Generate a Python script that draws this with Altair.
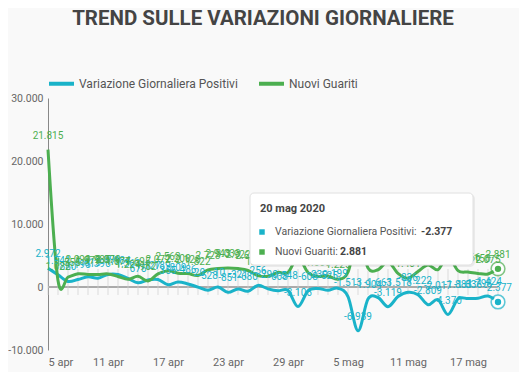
import altair as alt
import pandas as pd

# ---- data ----
dates = pd.date_range("2020-04-05", "2020-05-20", freq="D").strftime("%Y-%m-%dT00:00:00").tolist()

variazione_positivi = [
    2972, 1941, 880, 1195, 1615, 1396, 1996, 1984, 1363, 675,
    1127, 1189, 355, 809, 486, -20, -528, -10, -851, -321,
    -680, 256, -290, -608, -548, -3106, -608, -239, -525, -199,
    -1513, -6939, -1904, -1663, -3119, -1518, -836, -1222, -2809, -2017,
    -4370, -1883, -1836, -1798, -1424, -2377,
]
nuovi_guariti = [
    21815, 1022, 1555, 2099, 1979, 1985, 2079, 1677, 1224, 1695,
    962, 2072, 2563, 2200, 2128, 1822, 2723, 2943, 3033, 2922,
    2622, 1808, 1696, 2317, 2311, 4693, 2304, 1665, 1740, 1225,
    2352, 8014, 3031, 2747, 4008, 2155, 1401, 2452, 3502, 2747,
    4917, 2605, 2366, 2150, 2075, 2881,
]
series_names = ["Variazione Giornaliera Positivi", "Nuovi Guariti"]
series_colors = ["#1ab3c9", "#4caf50"]
x_tick_dates = ["2020-04-05", "2020-04-11", "2020-04-17", "2020-04-23",
                "2020-04-29", "2020-05-05", "2020-05-11", "2020-05-17"]
y_ticks = [-10000, 0, 10000, 20000, 30000]
title_text = "TREND SULLE VARIAZIONI GIORNALIERE"
tooltip_date = "20 mag 2020"

# ---- tables ----
df = pd.DataFrame({
    "date": dates * 2,
    "serie": [series_names[0]] * len(dates) + [series_names[1]] * len(dates),
    "value": variazione_positivi + nuovi_guariti,
})
last = df[df["date"] == dates[-1]]
days = pd.DataFrame({"date": dates})


def it_num(v):
    return f"{v:,}".replace(",", ".")


def dt(s):
    y, m, d = map(int, s.split("-"))
    return alt.DateTime(year=y, month=m, date=d)


W, H = 450, 252
FONT = "Roboto"

xscale = alt.Scale(domain=[dt(dates[0][:10]), dt(dates[-1][:10])], nice=False)
yscale = alt.Scale(domain=[y_ticks[0], y_ticks[-1]], nice=False, zero=False)
color_scale = alt.Scale(domain=series_names, range=series_colors)

X = alt.X("date:T", scale=xscale,
          axis=alt.Axis(values=[dt(d) for d in x_tick_dates], format="%-d %b",
                        title=None, grid=False, ticks=False, domain=False,
                        labelFont=FONT, labelFontSize=11, labelColor="#666",
                        labelPadding=6, labelAngle=0))
Y = alt.Y("value:Q", scale=yscale,
          axis=alt.Axis(values=y_ticks, format=",d", title=None, grid=False,
                        ticks=False, domain=True, domainColor="#888",
                        labelFont=FONT, labelFontSize=10.5, labelColor="#666",
                        labelPadding=5))

zero_rule = alt.Chart(days).mark_rule(color="#aaa", strokeWidth=1).encode(
    y=alt.datum(0), x=alt.value(0), x2=alt.value(W))

day_ticks = alt.Chart(days).mark_tick(color="#d0d0d0", thickness=1, size=26, yOffset=-5,
                                      orient="vertical").encode(
    x=alt.X("date:T", scale=xscale), y=alt.datum(0))

lines = alt.Chart(df).mark_line(interpolate="cardinal", strokeWidth=3).encode(
    x=X, y=Y,
    color=alt.Color("serie:N", scale=color_scale, sort=series_names,
                    legend=alt.Legend(orient="none", legendX=-1, legendY=-29,
                                      direction="horizontal", title=None,
                                      symbolType="stroke", symbolSize=625,
                                      symbolStrokeWidth=4, labelFont=FONT,
                                      labelFontSize=12, labelColor="#555",
                                      labelLimit=400,
                                      labelOffset=3, columnPadding=13, padding=0)),
    detail="serie:N",
)

labels = alt.Chart(df).mark_text(dy=-14, fontSize=10, font=FONT).encode(
    x=alt.X("date:T", scale=xscale), y=alt.Y("value:Q", scale=yscale),
    text=alt.Text("value:Q", format=",d"),
    color=alt.Color("serie:N", scale=color_scale, legend=None),
)

end_outer = alt.Chart(last).mark_point(shape="circle", size=190, filled=False,
                                       strokeWidth=1.5).encode(
    x=alt.X("date:T", scale=xscale), y=alt.Y("value:Q", scale=yscale),
    color=alt.Color("serie:N", scale=color_scale, legend=None),
)
end_inner = alt.Chart(last).mark_point(shape="circle", size=70, filled=True, opacity=1,
                                       stroke="white", strokeWidth=2).encode(
    x=alt.X("date:T", scale=xscale), y=alt.Y("value:Q", scale=yscale),
    fill=alt.Color("serie:N", scale=color_scale, legend=None),
)

one = pd.DataFrame({"a": [0]})
title = alt.Chart(one).mark_text(text=title_text, font=FONT, fontSize=20.5, fontWeight="bold",
                                 color="#444", align="center", baseline="alphabetic").encode(
    x=alt.value(215), y=alt.value(-73))

tt_shadow = alt.Chart(one).mark_rect(color="#000", opacity=0.06, cornerRadius=5).encode(
    x=alt.value(203), x2=alt.value(427), y=alt.value(96), y2=alt.value(169))
tt_box = alt.Chart(one).mark_rect(fill="white", stroke="#e0e0e0", strokeWidth=1,
                                  cornerRadius=4).encode(
    x=alt.value(202), x2=alt.value(425), y=alt.value(95), y2=alt.value(167))
tt_head = alt.Chart(one).mark_text(text=tooltip_date, font=FONT, fontSize=11, fontWeight="bold",
                                   color="#444", align="left", baseline="middle").encode(
    x=alt.value(212), y=alt.value(111))
tt_sq1 = alt.Chart(one).mark_square(size=30, color=series_colors[0], opacity=1).encode(
    x=alt.value(214), y=alt.value(134))
tt_sq2 = alt.Chart(one).mark_square(size=30, color=series_colors[1], opacity=1).encode(
    x=alt.value(214), y=alt.value(154))
tt_t1 = alt.Chart(one).mark_text(text=series_names[0] + ":", font=FONT, fontSize=10.5,
                                 color="#555", align="left", baseline="middle").encode(
    x=alt.value(227), y=alt.value(134))
tt_v1 = alt.Chart(one).mark_text(text=it_num(variazione_positivi[-1]), font=FONT, fontSize=10.5,
                                 fontWeight="bold", color="#444", align="left",
                                 baseline="middle").encode(x=alt.value(373), y=alt.value(134))
tt_t2 = alt.Chart(one).mark_text(text=series_names[1] + ":", font=FONT, fontSize=10.5,
                                 color="#555", align="left", baseline="middle").encode(
    x=alt.value(227), y=alt.value(154))
tt_v2 = alt.Chart(one).mark_text(text=it_num(nuovi_guariti[-1]), font=FONT, fontSize=10.5,
                                 fontWeight="bold", color="#444", align="left",
                                 baseline="middle").encode(x=alt.value(292), y=alt.value(154))

chart = alt.layer(
    zero_rule, day_ticks, lines, labels, end_outer, end_inner, title,
    tt_shadow, tt_box, tt_head, tt_sq1, tt_sq2, tt_t1, tt_v1, tt_t2, tt_v2,
).properties(
    width=W, height=H,
    padding={"left": 40, "top": 90, "right": 21, "bottom": 22},
    autosize=alt.AutoSizeParams(type="none"),
).configure(
    background="#f9f9f9",
    locale={
        "number": {"decimal": ",", "thousands": ".", "grouping": [3],
                   "currency": ["", " €"], "minus": "-"},
        "time": {
            "dateTime": "%A %e %B %Y, %X", "date": "%d/%m/%Y", "time": "%H:%M:%S",
            "periods": ["AM", "PM"],
            "days": ["domenica", "lunedì", "martedì", "mercoledì", "giovedì", "venerdì", "sabato"],
            "shortDays": ["dom", "lun", "mar", "mer", "gio", "ven", "sab"],
            "months": ["gennaio", "febbraio", "marzo", "aprile", "maggio", "giugno", "luglio",
                       "agosto", "settembre", "ottobre", "novembre", "dicembre"],
            "shortMonths": ["gen", "feb", "mar", "apr", "mag", "giu", "lug", "ago", "set",
                            "ott", "nov", "dic"],
        },
    },
).configure_view(stroke=None)

chart.save("out.html", embed_options={"renderer": "svg", "actions": False})
